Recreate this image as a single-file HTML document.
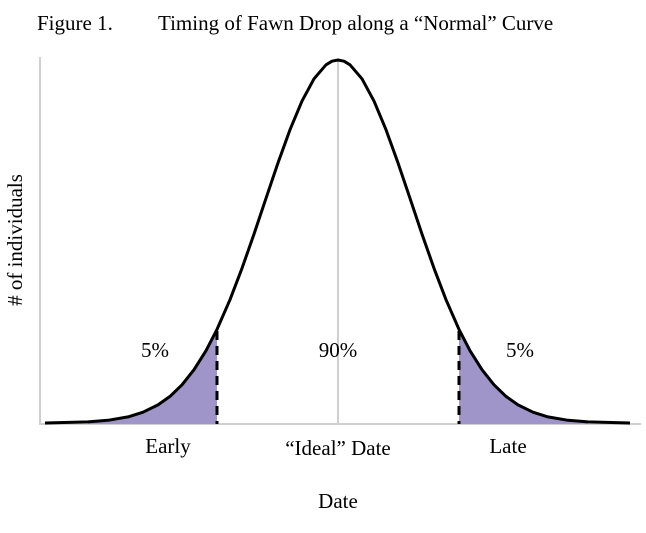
<!DOCTYPE html>
<html><head><meta charset="utf-8"><style>
html,body{margin:0;padding:0;background:#fff;width:646px;height:533px;overflow:hidden}
svg{display:block;font-family:"Liberation Serif",serif}
</style></head><body>
<svg width="646" height="533" viewBox="0 0 646 533">
<text x="37" y="30" font-size="21" fill="#000">Figure 1.</text>
<text x="158" y="30" font-size="21" fill="#000">Timing of Fawn Drop along a “Normal” Curve</text>
<line x1="40" y1="57" x2="40" y2="425" stroke="#d0d0d0" stroke-width="2"/>
<line x1="39" y1="424" x2="641" y2="424" stroke="#d0d0d0" stroke-width="2"/>
<line x1="338" y1="60" x2="338" y2="424" stroke="#d0d0d0" stroke-width="2"/>
<path fill="#a095c8" d="M88,424 L88,421.9 L108,420.3 L128,416.9 L143,412.2 L158,404.9 L170,396.4 L182,384.8 L194,369.7 L206,350.7 L217,329.4 L217,424 Z"/>
<path fill="#a095c8" d="M459,424 L459,329.4 L470,350.7 L482,369.7 L494,384.8 L506,396.4 L518,404.9 L533,412.2 L548,416.9 L568,420.3 L588,421.9 L588,424 Z"/>
<path fill="none" stroke="#000" stroke-width="3" stroke-linejoin="round" d="M45,423 L88,421.9 L108,420.3 L128,416.9 L143,412.2 L158,404.9 L170,396.4 L182,384.8 L194,369.7 L206,350.7 L217,329.4 L230,299.7 L242,268.3 L254,234.1 L266,198.3 L278,162.9 L290,129.7 L302,101.1 L314,78.8 L326,64.8 L332,61.2 L338,60 L344,61.2 L350,64.8 L362,78.8 L374,101.1 L386,129.7 L398,162.9 L410,198.3 L422,234.1 L434,268.3 L446,299.7 L459,329.4 L470,350.7 L482,369.7 L494,384.8 L506,396.4 L518,404.9 L533,412.2 L548,416.9 L568,420.3 L588,421.9 L630,423"/>
<line x1="217" y1="331" x2="217" y2="424" stroke="#000" stroke-width="3" stroke-dasharray="9,6"/>
<line x1="459" y1="331" x2="459" y2="424" stroke="#000" stroke-width="3" stroke-dasharray="9,6"/>
<text x="155" y="357" font-size="21" text-anchor="middle">5%</text>
<text x="338" y="357" font-size="21" text-anchor="middle">90%</text>
<text x="520" y="357" font-size="21" text-anchor="middle">5%</text>
<text x="168" y="453" font-size="21" text-anchor="middle">Early</text>
<text x="338" y="455" font-size="21" text-anchor="middle">“Ideal” Date</text>
<text x="508" y="453" font-size="21" text-anchor="middle">Late</text>
<text x="338" y="508" font-size="21" text-anchor="middle">Date</text>
<text transform="translate(22,240) rotate(-90)" font-size="21" text-anchor="middle"># of individuals</text>
</svg>
</body></html>
